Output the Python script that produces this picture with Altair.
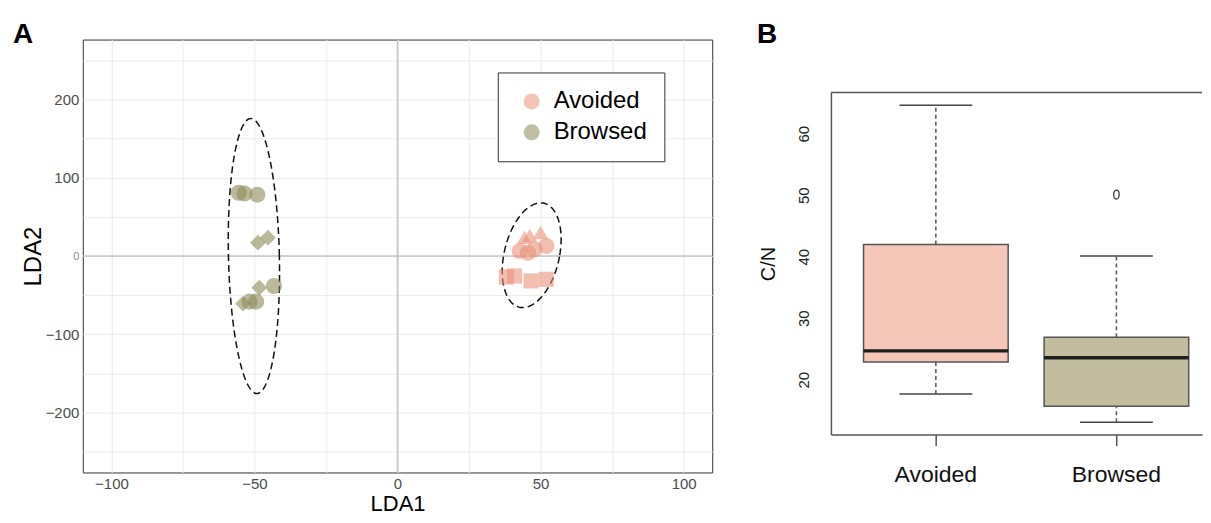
import altair as alt
import numpy as np
import pandas as pd

FONT = "Liberation Sans"

# ---------------- Panel A data (LDA scores) ----------------
browsed_x = [-55.5, -53.5, -49.0, -48.8, -45.3, -48.3, -43.2, -54.0, -51.7, -49.4]
browsed_y = [81.0, 80.0, 78.5, 17.0, 23.4, -40.5, -38.3, -61.0, -58.4, -58.4]
browsed_shape = ["circle", "circle", "circle", "diamond", "diamond",
                 "diamond", "circle", "diamond", "circle", "circle"]

avoided_x = [44.4, 46.2, 50.0, 42.7, 45.6, 47.9, 52.0, 38.0, 40.9, 46.7, 52.0]
avoided_y = [23.8, 26.3, 30.1, 6.4, 4.2, 8.6, 12.8, -26.8, -25.5, -31.9, -29.8]
avoided_shape = ["triangle-up", "triangle-up", "triangle-up",
                 "circle", "circle", "circle", "circle",
                 "square", "square", "square", "square"]

groups = ["Avoided", "Browsed"]
group_colors = ["#e8927a", "#8c8a58"]

shape_names = ["circle", "diamond", "triangle-up", "square"]
shape_sizes = [260, 230, 420, 270]

# confidence ellipses (centre, semi-axes, shear)
ell_group = ["Browsed", "Avoided"]
ell_cx = [-50.2, 46.9]
ell_cy = [0.0, 1.0]
ell_a = [8.9, 9.8]
ell_b = [176.0, 67.0]
ell_shear = [-0.006, 0.047]

x_ticks = [-100, -75, -50, -25, 0, 25, 50, 75, 100]
y_ticks = [-250, -200, -150, -100, -50, 0, 50, 100, 150, 200, 250]

# ---------------- Panel B data (C/N boxplot stats) ----------------
cats = ["Avoided", "Browsed"]
box_lower = [17.7, 13.1]
box_q1 = [22.9, 15.7]
box_median = [24.7, 23.6]
box_q3 = [42.0, 26.9]
box_upper = [64.6, 40.1]
out_cat = ["Browsed"]
out_val = [50.1]
box_fill = ["#f4c7b9", "#c2bd9e"]
cn_ticks = [20, 30, 40, 50, 60]

# ---------------- Panel A ----------------
W_A, H_A = 631, 434
pts = pd.DataFrame({
    "x": browsed_x + avoided_x,
    "y": browsed_y + avoided_y,
    "group": ["Browsed"] * len(browsed_x) + ["Avoided"] * len(avoided_x),
    "shape": browsed_shape + avoided_shape,
})

t = np.linspace(0, 2 * np.pi, 145)
ell_rows = []
for i, g in enumerate(ell_group):
    xs = ell_cx[i] + ell_a[i] * np.cos(t) + ell_shear[i] * ell_b[i] * np.sin(t)
    ys = ell_cy[i] + ell_b[i] * np.sin(t)
    for k in range(len(t)):
        ell_rows.append({"x": xs[k], "y": ys[k], "grp": g, "k": k})
ell = pd.DataFrame(ell_rows)

sx = alt.Scale(domain=[-110, 110], nice=False, zero=False)
sy = alt.Scale(domain=[-277, 277], nice=False, zero=False)

ax_x = alt.Axis(values=x_ticks, labelExpr="datum.value % 50 == 0 ? datum.label : ''",
                grid=True, gridColor="#ebebeb", gridWidth=1, ticks=False, tickSize=0,
                domain=False, labelFontSize=15, labelColor="#4d4d4d", labelPadding=4,
                labelOverlap=False, labelFlush=False,
                title="LDA1", titleFontSize=22, titleFontWeight="normal", titleColor="#000",
                titleY=38, titleBaseline="alphabetic")
ax_y = alt.Axis(values=y_ticks, labelExpr="datum.value % 100 == 0 ? datum.label : ''",
                grid=True, gridColor="#ebebeb", gridWidth=1, ticks=False, tickSize=0,
                domain=False,
                labelFontSize=alt.condition("datum.value == 0", alt.value(11), alt.value(15)),
                labelColor=alt.condition("datum.value == 0", alt.value("#8a8a8a"), alt.value("#4d4d4d")),
                labelPadding=4, labelOverlap=False, labelFlush=False,
                title="LDA2", titleFontSize=24, titleFontWeight="normal", titleColor="#000",
                titleX=-42, titleY=H_A / 2, titleAngle=270, titleAlign="center",
                titleBaseline="alphabetic")

zero_v = alt.Chart(pd.DataFrame({"v": [0]})).mark_rule(color="#c6c6c6", strokeWidth=1.6).encode(
    x=alt.X("v:Q", scale=sx, title="LDA1"))
zero_h = alt.Chart(pd.DataFrame({"v": [0]})).mark_rule(color="#c6c6c6", strokeWidth=1.6).encode(
    y=alt.Y("v:Q", scale=sy, title="LDA2"))

ellipses = alt.Chart(ell).mark_line(color="#111", strokeWidth=1.5, strokeDash=[7, 4]).encode(
    x=alt.X("x:Q", scale=sx, title="LDA1"),
    y=alt.Y("y:Q", scale=sy, title="LDA2"),
    detail="grp:N",
    order="k:Q",
)

points = alt.Chart(pts).mark_point(filled=True, opacity=0.6, strokeWidth=0).encode(
    x=alt.X("x:Q", scale=sx, axis=ax_x, title="LDA1"),
    y=alt.Y("y:Q", scale=sy, axis=ax_y, title="LDA2"),
    color=alt.Color("group:N", scale=alt.Scale(domain=groups, range=group_colors),
                    legend=alt.Legend(title=None, orient="none", legendX=416, legendY=33,
                                      fillColor="#ffffff", strokeColor="#333333", padding=17,
                                      labelFontSize=24, labelColor="#000", symbolType="circle",
                                      symbolSize=256, symbolOpacity=0.55, symbolStrokeWidth=0,
                                      rowPadding=7, symbolOffset=5, labelOffset=10,
                                      cornerRadius=0)),
    shape=alt.Shape("shape:N", scale=None),
    size=alt.Size("shape:N", scale=alt.Scale(domain=shape_names, range=shape_sizes), legend=None),
)

label_a = alt.Chart(pd.DataFrame({"t": ["A"]})).mark_text(
    align="left", baseline="alphabetic", fontSize=28, fontWeight="bold", color="#000").encode(
    text="t:N", x=alt.value(-70), y=alt.value(3))

panel_a = alt.layer(zero_v, zero_h, ellipses, points, label_a).properties(
    width=W_A, height=H_A, view=alt.ViewBackground(stroke="#333333", strokeWidth=1))

# ---------------- Panel B ----------------
W_B, H_B = 372, 396
TOP_B = 53
box = pd.DataFrame({"cat": cats, "lower": box_lower, "q1": box_q1, "median": box_median,
                    "q3": box_q3, "upper": box_upper})
outl = pd.DataFrame({"cat": out_cat, "value": out_val})

sbx = alt.Scale(domain=cats, paddingInner=0.199, paddingOuter=0.1271, align=0.7106)
sby = alt.Scale(domain=[11.1, 66.7], range=[H_B, TOP_B], nice=False, zero=False)

ax_bx = alt.Axis(title=None, labelAngle=0, labelFontSize=23, labelColor="#111", labelPadding=18,
                 ticks=True, tickSize=11, tickColor="#555", tickWidth=1.5,
                 domainColor="#555", domainWidth=1.5, grid=False)
ax_by = alt.Axis(values=cn_ticks, grid=False, ticks=False, tickSize=0, labelAngle=270,
                 labelAlign="center", labelBaseline="alphabetic", labelPadding=22,
                 labelFontSize=15, labelColor="#222", domainColor="#555", domainWidth=1.5,
                 title="C/N", titleFontSize=20, titleFontWeight="normal", titleColor="#111",
                 titleX=-57, titleY=(H_B + TOP_B) / 2, titleAngle=270, titleAlign="center",
                 titleBaseline="alphabetic")

xb = alt.X("cat:N", scale=sbx, axis=ax_bx, title=None)

boxes = alt.Chart(box).mark_bar(stroke="#555", strokeWidth=1.5, opacity=1).encode(
    x=xb,
    y=alt.Y("q1:Q", scale=sby, axis=ax_by, title="C/N"),
    y2="q3:Q",
    fill=alt.Fill("cat:N", scale=alt.Scale(domain=cats, range=box_fill), legend=None),
)
wh_up = alt.Chart(box).mark_rule(color="#555", strokeWidth=1.5, strokeDash=[4, 3]).encode(
    x=alt.X("cat:N", scale=sbx, title=None), y=alt.Y("q3:Q", scale=sby, title="C/N"), y2="upper:Q")
wh_lo = alt.Chart(box).mark_rule(color="#555", strokeWidth=1.5, strokeDash=[4, 3]).encode(
    x=alt.X("cat:N", scale=sbx, title=None), y=alt.Y("lower:Q", scale=sby, title="C/N"), y2="q1:Q")
cap_up = alt.Chart(box).mark_tick(size=73, thickness=1.5, color="#444", opacity=1).encode(
    x=alt.X("cat:N", scale=sbx, title=None), y=alt.Y("upper:Q", scale=sby, title="C/N"))
cap_lo = alt.Chart(box).mark_tick(size=73, thickness=1.5, color="#444", opacity=1).encode(
    x=alt.X("cat:N", scale=sbx, title=None), y=alt.Y("lower:Q", scale=sby, title="C/N"))
med = alt.Chart(box).mark_tick(size=145, thickness=3.5, color="#1e1e1a", opacity=1).encode(
    x=alt.X("cat:N", scale=sbx, title=None), y=alt.Y("median:Q", scale=sby, title="C/N"))
outlier = alt.Chart(outl).mark_point(
    shape="M0,-1A0.62,1 0 1,1 0,1A0.62,1 0 1,1 0,-1Z", size=80, filled=False,
    stroke="#333", strokeWidth=1.2, opacity=1).encode(
    x=alt.X("cat:N", scale=sbx, title=None), y=alt.Y("value:Q", scale=sby, title="C/N"))

top_border = alt.Chart(pd.DataFrame({"d": [0]})).mark_rule(color="#555", strokeWidth=1.5).encode(
    x=alt.value(0), x2=alt.value(W_B), y=alt.value(TOP_B))

label_b = alt.Chart(pd.DataFrame({"t": ["B"]})).mark_text(
    align="left", baseline="alphabetic", fontSize=28, fontWeight="bold", color="#000").encode(
    text="t:N", x=alt.value(-74), y=alt.value(3))

panel_b = alt.layer(boxes, wh_up, wh_lo, cap_up, cap_lo, med, outlier, top_border, label_b).properties(
    width=W_B, height=H_B, view=alt.ViewBackground(stroke=None))

chart = alt.hconcat(panel_a, panel_b, spacing=43).resolve_scale(
    color="independent", fill="independent", shape="independent", size="independent"
).resolve_legend(color="independent").properties(
    padding={"left": 4, "top": 11, "right": 0, "bottom": 0}
).configure(font=FONT)

chart.save("out.html", embed_options={"renderer": "svg", "actions": False})
